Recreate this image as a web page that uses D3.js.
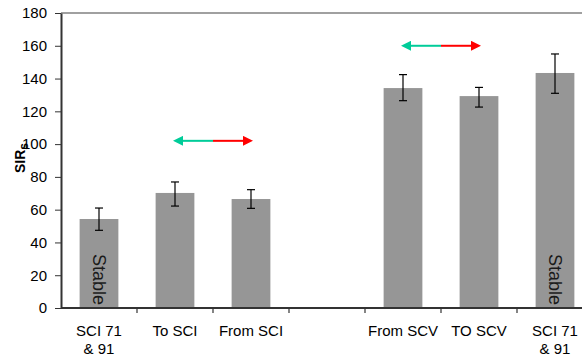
<!DOCTYPE html>
<html>
<head>
<meta charset="utf-8">
<script src="https://cdn.jsdelivr.net/npm/d3@7"></script>
<style>
  body { margin: 0; background: #fff; }
  svg { display: block; font-family: "Liberation Sans", Arial, sans-serif; }
</style>
</head>
<body>
<div id="chart"></div>
<script>
// data
const categories = ["c1", "c2", "c3", "gap", "c5", "c6", "c7"];
const labels = [["SCI 71", "& 91"], ["To SCI"], ["From SCI"], [], ["From SCV"], ["TO SCV"], ["SCI 71", "& 91"]];
const values = [54.3, 70.2, 66.5, null, 134.2, 129.3, 143.4];
const err_low = [47.4, 62.2, 60.8, null, 126.5, 122.6, 131];
const err_high = [61, 76.9, 72.2, null, 142.4, 134.6, 155];
const stable = ["c1", "c7"];
const arrows = [
    {from: "c2", to: "c3", y: 102},
    {from: "c5", to: "c6", y: 160}
];
const y_ticks = [0, 20, 40, 60, 80, 100, 120, 140, 160, 180];

// sizes
const width = 582, height = 359;
const plot_left = 61, plot_right = 593, plot_top = 13, plot_bottom = 308;

const svg = d3.select("#chart").append("svg")
    .attr("width", width)
    .attr("height", height);

const x = d3.scaleBand().domain(categories).range([plot_left, plot_right]).paddingInner(0.49).paddingOuter(0.245);
const x_outer = d3.scaleBand().domain(categories).range([plot_left, plot_right]);
const y = d3.scaleLinear().domain([0, 180]).range([plot_bottom, plot_top]);

const defs = svg.append("defs");
defs.append("marker").attr("id", "head_green")
    .attr("viewBox", "0 0 10 10").attr("refX", 2).attr("refY", 5)
    .attr("markerWidth", 5).attr("markerHeight", 5)
    .attr("orient", "auto")
    .append("path").attr("d", "M0,0 L10,5 L0,10 z").attr("fill", "#00cc99");
defs.append("marker").attr("id", "head_red")
    .attr("viewBox", "0 0 10 10").attr("refX", 2).attr("refY", 5)
    .attr("markerWidth", 5).attr("markerHeight", 5)
    .attr("orient", "auto")
    .append("path").attr("d", "M0,0 L10,5 L0,10 z").attr("fill", "#ff0000");

// top line
svg.append("line")
    .attr("x1", plot_left).attr("x2", width)
    .attr("y1", y(180)).attr("y2", y(180))
    .attr("stroke", "#808080").attr("stroke-width", 1.5);

const data = categories.map((c, i) => ({c: c, v: values[i], lo: err_low[i], hi: err_high[i]}))
    .filter(d => d.v != null);

svg.selectAll(".bar").data(data).enter().append("rect")
    .attr("class", "bar")
    .attr("x", d => x(d.c))
    .attr("y", d => y(d.v))
    .attr("width", x.bandwidth())
    .attr("height", d => y(0) - y(d.v))
    .attr("fill", "#969696");

// error bars
const err = svg.selectAll(".err").data(data).enter().append("g")
    .attr("class", "err")
    .attr("stroke", "#000").attr("stroke-width", 1.2);
err.append("line")
    .attr("x1", d => x(d.c) + x.bandwidth() / 2).attr("x2", d => x(d.c) + x.bandwidth() / 2)
    .attr("y1", d => y(d.lo)).attr("y2", d => y(d.hi));
err.append("line")
    .attr("x1", d => x(d.c) + x.bandwidth() / 2 - 4).attr("x2", d => x(d.c) + x.bandwidth() / 2 + 4)
    .attr("y1", d => y(d.lo)).attr("y2", d => y(d.lo));
err.append("line")
    .attr("x1", d => x(d.c) + x.bandwidth() / 2 - 4).attr("x2", d => x(d.c) + x.bandwidth() / 2 + 4)
    .attr("y1", d => y(d.hi)).attr("y2", d => y(d.hi));

// stable labels
svg.selectAll(".stable").data(stable).enter().append("text")
    .attr("class", "stable")
    .attr("transform", d => "translate(" + (x(d) + x.bandwidth() / 2) + "," + y(0) + ") rotate(90)")
    .attr("x", -3)
    .attr("dy", "0.35em")
    .attr("text-anchor", "end")
    .attr("font-size", 18)
    .attr("fill", "#1a1a1a")
    .text("Stable");

// arrows
arrows.forEach(a => {
    const x1 = x(a.from) + x.bandwidth() / 2;
    const x2 = x(a.to) + x.bandwidth() / 2;
    const mid = (x1 + x2) / 2;
    svg.append("line")
        .attr("x1", mid).attr("x2", x1 + 6)
        .attr("y1", y(a.y)).attr("y2", y(a.y))
        .attr("stroke", "#00cc99").attr("stroke-width", 2)
        .attr("marker-end", "url(#head_green)");
    svg.append("line")
        .attr("x1", mid).attr("x2", x2 - 6)
        .attr("y1", y(a.y)).attr("y2", y(a.y))
        .attr("stroke", "#ff0000").attr("stroke-width", 2)
        .attr("marker-end", "url(#head_red)");
});

// y axis
const y_axis = svg.append("g")
    .attr("transform", "translate(" + plot_left + ",0)")
    .call(d3.axisLeft(y).tickValues(y_ticks).tickSize(6).tickSizeOuter(0));
y_axis.select(".domain").attr("stroke", "#333").attr("stroke-width", 2);
y_axis.selectAll(".tick line").attr("stroke", "#333");
y_axis.selectAll(".tick text").attr("font-size", 15).attr("fill", "#000")
    .attr("font-family", "Liberation Sans, Arial, sans-serif").attr("x", -14);

// x axis
const x_axis = svg.append("g").attr("transform", "translate(0," + plot_bottom + ")");
x_axis.append("line").attr("x1", plot_left).attr("x2", width)
    .attr("stroke", "#333").attr("stroke-width", 2);
x_axis.selectAll(".xtick").data(categories.slice(1)).enter().append("line")
    .attr("x1", d => x_outer(d)).attr("x2", d => x_outer(d))
    .attr("y1", 0).attr("y2", 5)
    .attr("stroke", "#333").attr("stroke-width", 1.2);
x_axis.selectAll(".xlabel").data(categories).enter().append("text")
    .attr("text-anchor", "middle")
    .attr("font-size", 15)
    .attr("fill", "#000")
    .attr("x", d => x_outer(d) + x_outer.bandwidth() / 2)
    .attr("y", 28)
    .each(function(d, i) {
        d3.select(this).selectAll("tspan").data(labels[i]).enter().append("tspan")
            .attr("x", x_outer(d) + x_outer.bandwidth() / 2)
            .attr("dy", (t, j) => j == 0 ? 0 : 18)
            .text(t => t);
    });

// y label
const ylab = svg.append("text")
    .attr("transform", "translate(25,158) rotate(-90)")
    .attr("text-anchor", "middle")
    .attr("font-size", 14)
    .attr("font-weight", "bold")
    .attr("fill", "#000");
ylab.append("tspan").text("SIR");
ylab.append("tspan").attr("font-size", 12).attr("dy", 3).text("s");
</script>
</body>
</html>
